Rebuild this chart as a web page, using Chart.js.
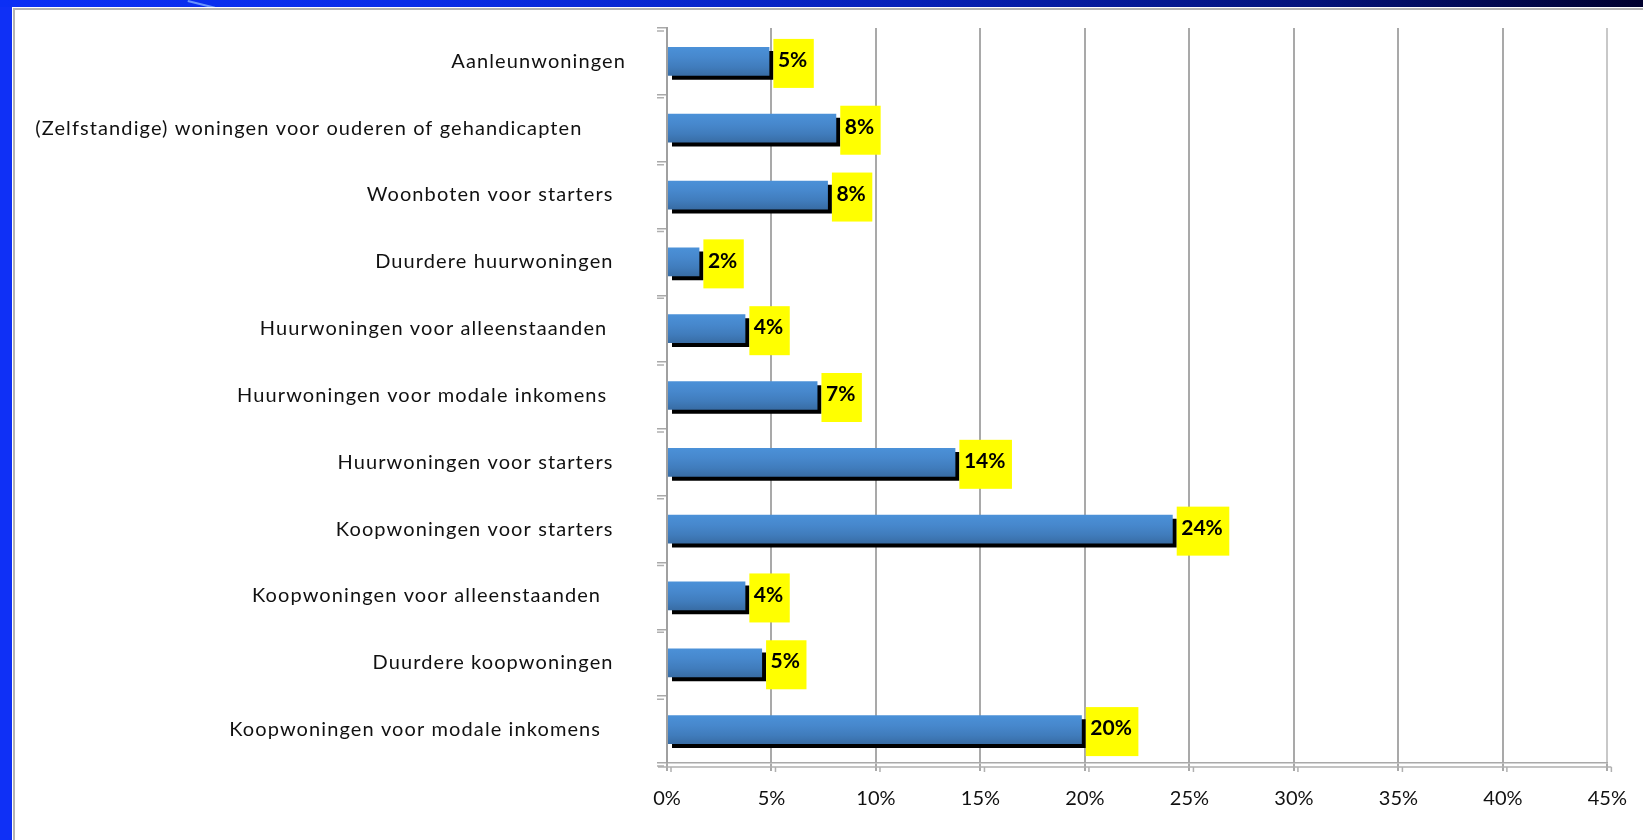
<!DOCTYPE html>
<html><head><meta charset="utf-8">
<script src="https://cdn.jsdelivr.net/npm/chart.js@4/dist/chart.umd.min.js"></script>
<style>
html,body{margin:0;padding:0;width:1643px;height:840px;overflow:hidden;background:#0f30f6;}
#band{position:absolute;left:0;top:0;width:1643px;height:7px;background:linear-gradient(to right,#0b2ff5 0%,#0a2de8 25%,#0721b8 55%,#04137a 80%,#00002e 100%);}
#streak{position:absolute;left:188px;top:0px;width:28px;height:2px;background:#7aa6ff;transform-origin:0 0;transform:rotate(14deg);opacity:.85}
#panel{position:absolute;left:12px;top:7px;right:0;bottom:0;background:#fff;}
#inner{position:absolute;left:1px;top:1px;right:0;bottom:0;border-left:2px solid #b4b4b4;border-top:2px solid #b4b4b4;}
canvas{position:absolute;left:0;top:0;}
</style></head>
<body>
<div id="band"></div><div id="streak"></div>
<div id="panel"><div id="inner"></div></div>
<canvas id="c" width="1643" height="840"></canvas>
<script>
// ---- data ----
const categories = [
  "Aanleunwoningen",
  "(Zelfstandige) woningen voor ouderen of gehandicapten       ",
  "Woonboten voor starters  ",
  "Duurdere huurwoningen  ",
  "Huurwoningen voor alleenstaanden   ",
  "Huurwoningen voor modale inkomens   ",
  "Huurwoningen voor starters  ",
  "Koopwoningen voor starters  ",
  "Koopwoningen voor alleenstaanden    ",
  "Duurdere koopwoningen  ",
  "Koopwoningen voor modale inkomens    "
];
const shares = [4.9, 8.1, 7.7, 1.55, 3.75, 7.2, 13.8, 24.2, 3.75, 4.55, 19.85];
const xTickLabels = ["0%","5%","10%","15%","20%","25%","30%","35%","40%","45%"];

const FONT = "Lato";

function barGradient(c){
  const chart = c.chart;
  const ys = chart.scales && chart.scales.y;
  if (!ys || c.dataIndex === undefined || !ys.height) return '#4585c8';
  const yc = ys.getPixelForValue(c.dataIndex);
  const h = ys.height / categories.length * 0.43;
  const g = chart.ctx.createLinearGradient(0, yc - h/2, 0, yc + h/2);
  g.addColorStop(0, '#4b91d8');
  g.addColorStop(0.35, '#4788cd');
  g.addColorStop(0.7, '#407cbc');
  g.addColorStop(1, '#386ca4');
  return g;
}

const shadowPlugin = {
  id: 'shadow',
  beforeDatasetDraw(chart){
    const ctx = chart.ctx; ctx.save();
    ctx.shadowColor = '#000'; ctx.shadowOffsetX = 4; ctx.shadowOffsetY = 4; ctx.shadowBlur = 0;
  },
  afterDatasetDraw(chart){ chart.ctx.restore(); }
};

const labelPlugin = {
  id: 'valueBoxes',
  afterDatasetsDraw(chart){
    const ctx = chart.ctx;
    const meta = chart.getDatasetMeta(0);
    ctx.save();
    ctx.font = 'bold 21px ' + FONT;
    ctx.textBaseline = 'alphabetic';
    ctx.textAlign = 'left';
    meta.data.forEach((el, i) => {
      const txt = Math.round(shares[i]) + '%';
      const w = ctx.measureText(txt).width;
      const left = el.x + 4;
      ctx.fillStyle = '#ffff00';
      ctx.fillRect(left, el.y - 22.5, w + 11, 49);
      ctx.fillStyle = '#000';
      ctx.fillText(txt, left + 4.5, el.y + 5.7);
    });
    ctx.restore();
  }
};

const axisExtras = {
  id: 'axisExtras',
  afterLayout(chart){
    const s = chart.scales.y;
    if (s && !s._lsWrapped){
      const orig = s.drawLabels.bind(s);
      s.drawLabels = function(ca){
        const c = this.ctx; const prev = c.letterSpacing;
        c.letterSpacing = '1.1px'; orig(ca); c.letterSpacing = prev || '0px';
      };
      s._lsWrapped = true;
    }
  },
  afterDraw(chart){
    const ctx = chart.ctx, ca = chart.chartArea, xs = chart.scales.x, ys = chart.scales.y;
    ctx.save();
    ctx.strokeStyle = '#b0b0b0'; ctx.lineWidth = 1.5;
    ctx.beginPath();
    ctx.moveTo(ca.left - 9, ca.bottom + 4); ctx.lineTo(ca.right + 4, ca.bottom + 4);
    xs.ticks.forEach(t => {
      const x = xs.getPixelForValue(t.value) + 4;
      ctx.moveTo(x, ca.bottom + 4); ctx.lineTo(x, ca.bottom + 9);
    });
    for (let i = 0; i <= categories.length; i++){
      const y = ys.getPixelForValue(i - 0.5) + 3;
      ctx.moveTo(ca.left - 10, y); ctx.lineTo(ca.left - 3, y);
    }
    ctx.stroke();
    ctx.restore();
  }
};

new Chart(document.getElementById('c'), {
  type: 'bar',
  data: {
    labels: categories,
    datasets: [{
      data: shares,
      backgroundColor: barGradient,
      borderWidth: 0,
      barPercentage: 0.43,
      categoryPercentage: 1
    }]
  },
  options: {
    indexAxis: 'y',
    responsive: false,
    animation: false,
    devicePixelRatio: 1,
    layout: { padding: { top: 28, right: 26, left: 0, bottom: 0 } },
    plugins: { legend: { display: false }, tooltip: { enabled: false } },
    scales: {
      x: {
        type: 'linear', min: 0, max: 45,
        afterFit(s){ s.height = 77; },
        ticks: {
          stepSize: 5, padding: 16,
          color: '#111',
          font: { family: FONT, size: 20 },
          callback: (v, i) => xTickLabels[i]
        },
        grid: {
          color: (c) => c.index === xTickLabels.length - 1 ? '#c8c8c8' : '#a9a9a9',
          lineWidth: 2, tickLength: 8, tickColor: '#a9a9a9'
        },
        border: { display: true, color: '#a9a9a9', width: 1.5 }
      },
      y: {
        afterFit(s){ s.width = 667; s.paddingTop = 0; s.paddingBottom = 0; },
        ticks: {
          padding: 31, color: '#111',
          font: { family: FONT, size: 20 }
        },
        grid: {
          drawOnChartArea: false, tickLength: 10, tickColor: '#a9a9a9', lineWidth: 1.5, offset: true
        },
        border: { display: true, color: '#a0a0a0', width: 2 }
      }
    }
  },
  plugins: [shadowPlugin, labelPlugin, axisExtras]
});
</script>
</body></html>
